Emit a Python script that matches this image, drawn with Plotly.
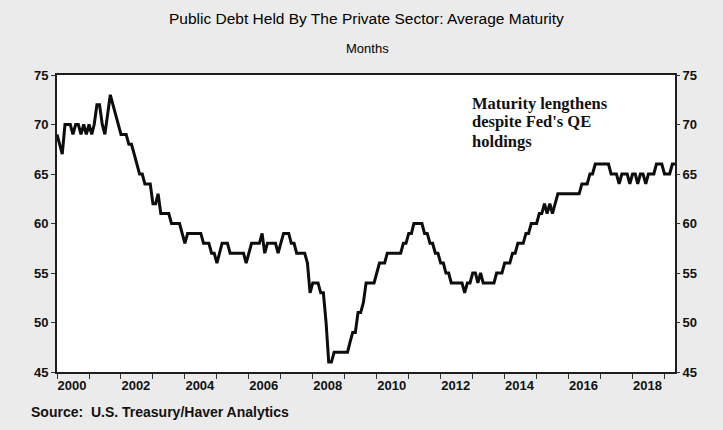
import pandas as pd
import plotly.graph_objects as go

# Average maturity (months), monthly from Jan 2000
maturity = [
    69, 68, 67, 70, 70, 70, 69, 70, 70, 69, 70, 69,   # 2000
    70, 69, 70, 72, 72, 70, 69, 71, 73, 72, 71, 70,   # 2001
    69, 69, 69, 68, 68, 67, 66, 65, 65, 64, 64, 64,   # 2002
    62, 62, 63, 61, 61, 61, 61, 60, 60, 60, 60, 59,   # 2003
    58, 59, 59, 59, 59, 59, 59, 58, 58, 58, 57, 57,   # 2004
    56, 57, 58, 58, 58, 57, 57, 57, 57, 57, 57, 56,   # 2005
    57, 58, 58, 58, 58, 59, 57, 58, 58, 58, 58, 57,   # 2006
    58, 59, 59, 59, 58, 58, 57, 57, 57, 57, 56, 53,   # 2007
    54, 54, 54, 53, 53, 50, 46, 46, 47, 47, 47, 47,   # 2008
    47, 47, 48, 49, 49, 51, 51, 52, 54, 54, 54, 54,   # 2009
    55, 56, 56, 56, 57, 57, 57, 57, 57, 57, 58, 58,   # 2010
    59, 59, 60, 60, 60, 60, 59, 59, 58, 58, 57, 57,   # 2011
    56, 56, 55, 55, 54, 54, 54, 54, 54, 53, 54, 54,   # 2012
    55, 55, 54, 55, 54, 54, 54, 54, 54, 55, 55, 55,   # 2013
    56, 56, 56, 57, 57, 58, 58, 58, 59, 59, 60, 60,   # 2014
    60, 61, 61, 62, 61, 62, 61, 62, 63, 63, 63, 63,   # 2015
    63, 63, 63, 63, 63, 64, 64, 64, 65, 65, 66, 66,   # 2016
    66, 66, 66, 66, 65, 65, 65, 64, 65, 65, 65, 64,   # 2017
    65, 65, 64, 65, 65, 64, 65, 65, 65, 66, 66, 66,   # 2018
    65, 65, 65, 66, 66,                               # 2019
]
start_month = "2000-01-01"
x_range = ["2000-01-01", "2019-05-01"]
label_years = [2000, 2002, 2004, 2006, 2008, 2010, 2012, 2014, 2016, 2018]
tick_years = list(range(2000, 2020))
y_ticks = [45, 50, 55, 60, 65, 70, 75]
y_range = [45, 75]
note_lines = ["Maturity lengthens", "despite Fed's QE", "holdings"]

months = pd.date_range(start_month, periods=len(maturity), freq="MS")

BG = "#ebebeb"
FONT = "Liberation Sans, Arial, sans-serif"
TXT = "#111111"

fig = go.Figure()
fig.add_trace(go.Scatter(x=months, y=maturity, mode="lines",
                         line=dict(color="#0d0d0d", width=3),
                         hoverinfo="skip", showlegend=False))
# empty trace so the secondary (label / right) axes are drawn
fig.add_trace(go.Scatter(x=[None], y=[None], xaxis="x2", yaxis="y2",
                         mode="lines", hoverinfo="skip", showlegend=False))

axis_font = dict(family=FONT, size=13, color=TXT, weight="bold")

fig.update_layout(
    width=723, height=430,
    margin=dict(l=57, r=48, t=75, b=58),
    paper_bgcolor=BG, plot_bgcolor="white",
    font=dict(family=FONT, color=TXT, size=12),
    xaxis=dict(
        range=x_range, type="date",
        tickmode="array", tickvals=[f"{y}-01-01" for y in tick_years],
        ticktext=["" for _ in tick_years],
        ticks="outside", ticklen=5, tickcolor="#333333", tickwidth=1,
        showgrid=False, zeroline=False,
        showline=True, linecolor="#1e1e1e", linewidth=2, mirror=True,
    ),
    xaxis2=dict(
        range=x_range, type="date", overlaying="x", side="bottom", anchor="y",
        tickmode="array",
        tickvals=[f"{y}-06-20" for y in label_years],
        ticktext=[str(y) for y in label_years],
        ticks="", ticklen=0, ticklabelstandoff=4,
        showgrid=False, zeroline=False, showline=False,
        tickfont=axis_font,
    ),
    yaxis=dict(
        range=y_range, tickvals=y_ticks, ticks="outside", ticklen=4,
        tickcolor="#333333", showgrid=False, zeroline=False,
        showline=True, linecolor="#1e1e1e", linewidth=2, mirror=True,
        tickfont=axis_font,
    ),
    yaxis2=dict(
        range=y_range, tickvals=y_ticks, ticks="outside", ticklen=4,
        tickcolor="#333333", overlaying="y", side="right",
        showgrid=False, zeroline=False, showline=False,
        tickfont=axis_font,
    ),
)


# position helpers in paper coords (plot area: x 57..675, y 75..372)
def px(xp):
    return (xp - 57) / 618.0


def py(yp):
    return (372 - yp) / 297.0


fig.add_annotation(text="Public Debt Held By The Private Sector: Average Maturity",
                   xref="paper", yref="paper", x=px(366), y=py(19),
                   showarrow=False, xanchor="center", yanchor="middle",
                   font=dict(family=FONT, size=15.5, color="#000000"))
fig.add_annotation(text="Months", xref="paper", yref="paper",
                   x=px(367), y=py(48), showarrow=False,
                   xanchor="center", yanchor="middle",
                   font=dict(family=FONT, size=13, color="#000000"))
fig.add_annotation(text="Source:  U.S. Treasury/Haver Analytics",
                   xref="paper", yref="paper", x=px(29), y=py(412),
                   showarrow=False, xanchor="left", yanchor="middle",
                   font=dict(family=FONT, size=14, color=TXT, weight="bold"))
for line_text, y_pix in zip(note_lines, [103, 122, 141]):
    fig.add_annotation(text=line_text, xref="paper", yref="paper",
                       x=px(470), y=py(y_pix),
                       showarrow=False, xanchor="left", yanchor="middle",
                       font=dict(family="Liberation Serif, Times New Roman, serif",
                                 size=16.5, color="#111111", weight="bold"))

fig.write_html("out.html",
               config={"displayModeBar": False},
               post_script="document.body.style.margin='0';"
                           "document.body.style.overflow='hidden';")
